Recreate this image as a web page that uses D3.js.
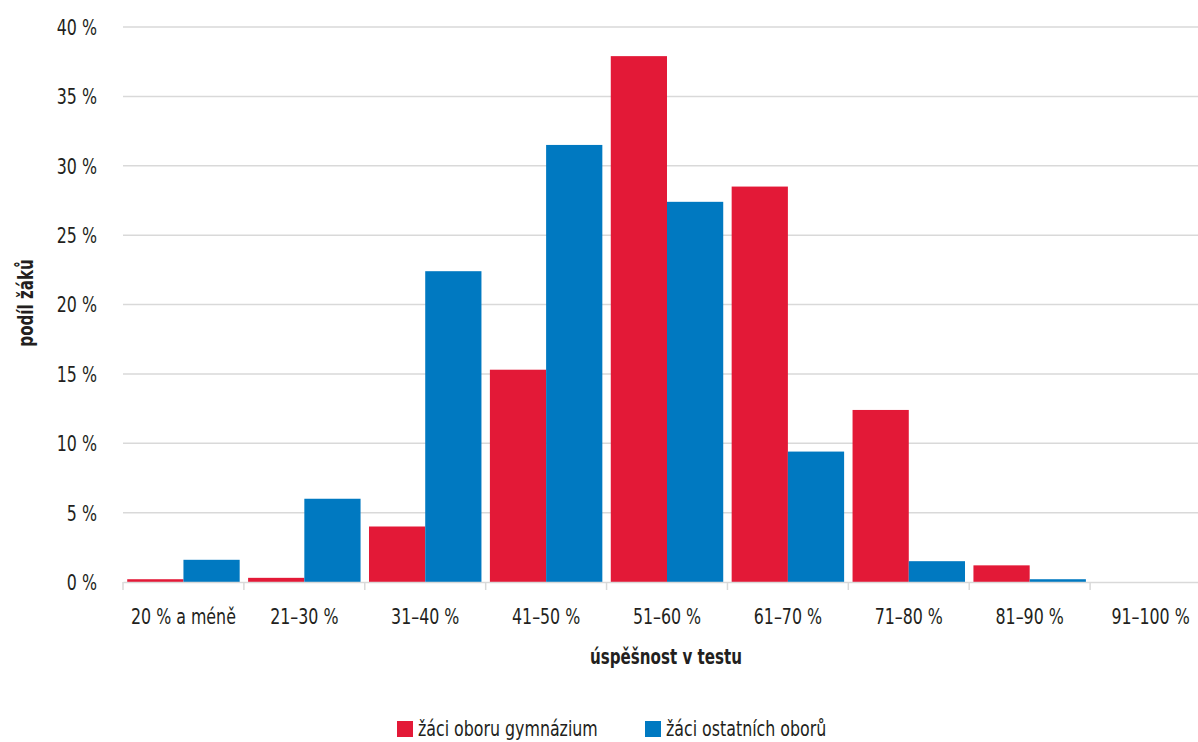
<!DOCTYPE html>
<html>
<head>
<meta charset="utf-8">
<script src="https://cdn.jsdelivr.net/npm/d3@7"></script>
<style>
  body { margin: 0; background: #fff; }
  svg text { font-family: "DejaVu Sans Condensed", "Liberation Sans Narrow", sans-serif; fill: #231f20; }
</style>
</head>
<body>
<div class="chartwrap"></div>
<script>
var width = 1198, height = 742;
var margin = {top: 27, left: 123, bottom: 160};

// data
var categories = ["20 % a méně", "21–30 %", "31–40 %", "41–50 %", "51–60 %", "61–70 %", "71–80 %", "81–90 %", "91–100 %"];
var seriesNames = ["žáci oboru gymnázium", "žáci ostatních oborů"];
var gymnazium = [0.2, 0.3, 4.0, 15.3, 37.9, 28.5, 12.4, 1.2, 0];
var ostatni = [1.6, 6.0, 22.4, 31.5, 27.4, 9.4, 1.5, 0.2, 0];
var yTicks = [0, 5, 10, 15, 20, 25, 30, 35, 40];
var colors = ["#e31937", "#0079c1"];

var rows = categories.map(function(c, i) {
    return {category: c, values: [gymnazium[i], ostatni[i]]};
});

var plotRight = 1211;
var y0 = 582;
var sx = 0.8;   // squeeze the font to look like a condensed face

var svg = d3.select(".chartwrap").append("svg")
    .attr("width", width)
    .attr("height", height);

var x = d3.scaleBand()
    .domain(categories)
    .range([margin.left, plotRight])
    .paddingInner(0)
    .paddingOuter(0);

var xs = d3.scaleBand()
    .domain([0, 1])
    .range([0, x.bandwidth()])
    .paddingOuter(0.075)
    .paddingInner(0);

var y = d3.scaleLinear()
    .domain([0, 40])
    .range([y0, margin.top]);

// grid
svg.append("g")
    .selectAll("line")
    .data(yTicks.slice(1))
    .enter().append("line")
    .attr("x1", margin.left)
    .attr("x2", plotRight)
    .attr("y1", function(d) { return y(d); })
    .attr("y2", function(d) { return y(d); })
    .attr("stroke", "#d9d9d9")
    .attr("stroke-width", 1.5);

// y labels
svg.append("g")
    .selectAll("text")
    .data(yTicks)
    .enter().append("text")
    .attr("transform", function(d) { return "translate(97," + y(d) + ") scale(" + sx + ",1)"; })
    .attr("dy", "0.36em")
    .style("text-anchor", "end")
    .style("font-size", "22px")
    .text(function(d) { return d + " %"; });

// bars
var groups = svg.append("g")
    .selectAll("g")
    .data(rows)
    .enter().append("g")
    .attr("transform", function(d) { return "translate(" + x(d.category) + ",0)"; });

groups.selectAll("rect")
    .data(function(d) { return d.values; })
    .enter().append("rect")
    .attr("x", function(d, i) { return xs(i); })
    .attr("y", function(d) { return y(d); })
    .attr("width", xs.bandwidth())
    .attr("height", function(d) { return y(0) - y(d); })
    .attr("fill", function(d, i) { return colors[i]; });

// x axis
var xAxis = d3.axisBottom(x).tickSize(0).tickPadding(0);
var xg = svg.append("g")
    .attr("transform", "translate(0," + y0 + ")")
    .call(xAxis);
xg.select(".domain").attr("stroke", "#d9d9d9").attr("stroke-width", 1.5);
xg.selectAll(".tick text")
    .attr("y", 0)
    .attr("dy", 0)
    .attr("transform", "translate(0,42) scale(" + sx + ",1)")
    .style("font-size", "22px")
    .style("font-family", null)
    .attr("fill", "#231f20");

xg.selectAll(".sep")
    .data(categories)
    .enter().append("line")
    .attr("class", "sep")
    .attr("x1", function(d) { return x(d); })
    .attr("x2", function(d) { return x(d); })
    .attr("y1", 0)
    .attr("y2", 8)
    .attr("stroke", "#d9d9d9")
    .attr("stroke-width", 1.5);

// axis titles
svg.append("text")
    .attr("transform", "translate(33,303) rotate(-90) scale(" + sx + ",1)")
    .style("text-anchor", "middle")
    .style("font-size", "21px")
    .style("font-weight", "bold")
    .text("podíl žáků");

svg.append("text")
    .attr("transform", "translate(666,664) scale(" + sx + ",1)")
    .style("text-anchor", "middle")
    .style("font-size", "21px")
    .style("font-weight", "bold")
    .text("úspěšnost v testu");

// legend
var legendX = [397, 645];
var legend = svg.selectAll(".legend")
    .data(seriesNames)
    .enter().append("g")
    .attr("class", "legend")
    .attr("transform", function(d, i) { return "translate(" + legendX[i] + ",721)"; });

legend.append("rect")
    .attr("width", 16)
    .attr("height", 16)
    .attr("fill", function(d, i) { return colors[i]; });

legend.append("text")
    .attr("transform", "translate(21,15) scale(" + sx + ",1)")
    .style("font-size", "22px")
    .text(function(d) { return d; });
</script>
</body>
</html>
